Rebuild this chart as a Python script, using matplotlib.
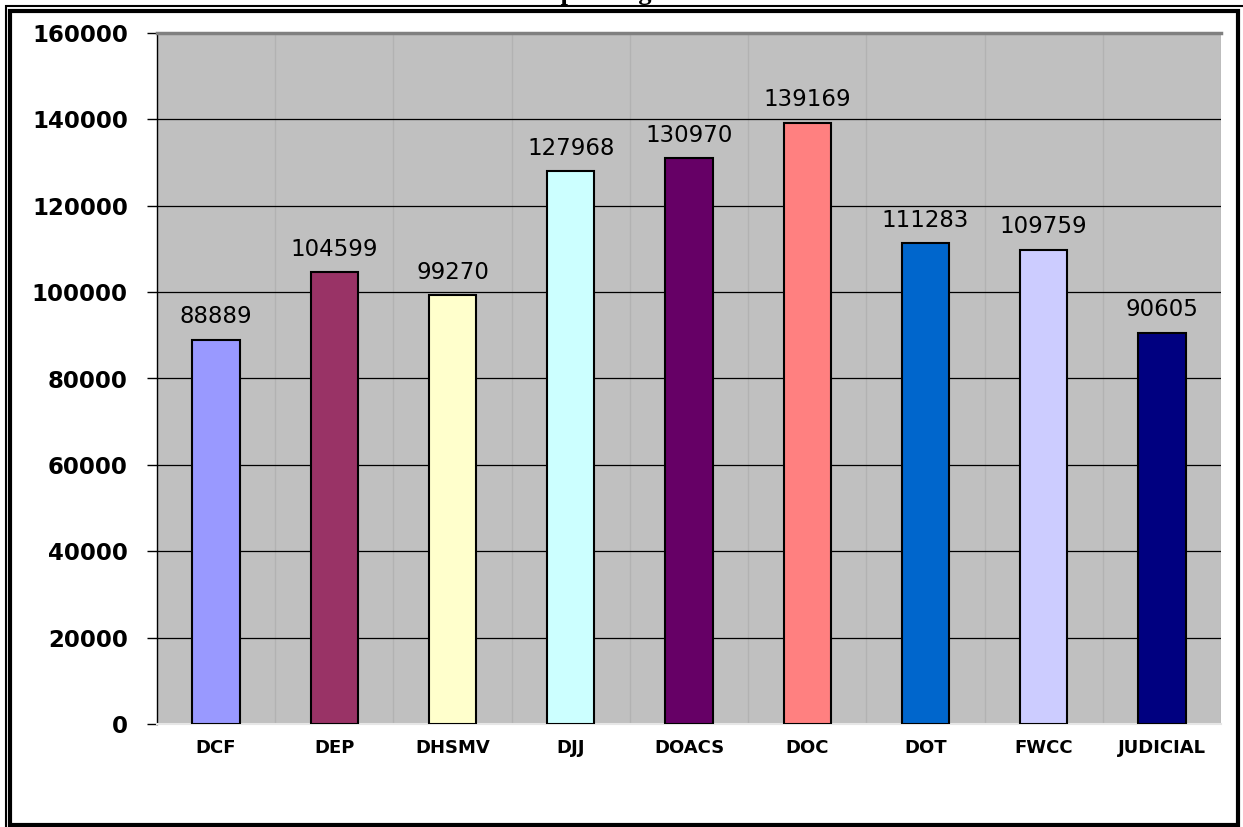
import matplotlib.pyplot as plt
import numpy as np
from matplotlib.patches import Rectangle

# data
agencies = ['DCF', 'DEP', 'DHSMV', 'DJJ', 'DOACS', 'DOC', 'DOT', 'FWCC', 'JUDICIAL']
values = [88889, 104599, 99270, 127968, 130970, 139169, 111283, 109759, 90605]
bar_colors = ['#9999FF', '#993366', '#FFFFCC', '#CCFFFF', '#660066',
              '#FF8080', '#0066CC', '#CCCCFF', '#000080']
y_ticks = [0, 20000, 40000, 60000, 80000, 100000, 120000, 140000, 160000]

W, H = 1243, 827
fig = plt.figure(figsize=(W / 100, H / 100), dpi=100)

# plot area in pixels: left 157, right 1221, top 33, bottom 724
ax = fig.add_axes([157 / W, 1 - 724 / H, (1221 - 157) / W, (724 - 33) / H])
ax.set_facecolor('#C0C0C0')

x = np.arange(len(agencies))
ax.bar(x, values, width=0.4, color=bar_colors, edgecolor='black', linewidth=1.5, zorder=3)

for xi, v in zip(x, values):
    ax.annotate(str(v), (xi, v), xytext=(0, 12), textcoords='offset points',
                ha='center', va='baseline', fontsize=16.5, family='DejaVu Sans', zorder=4)

ax.set_xlim(-0.5, len(agencies) - 0.5)
ax.set_ylim(0, 160000)
ax.set_yticks(y_ticks)
ax.set_yticklabels([str(t) for t in y_ticks], fontsize=16.5, fontweight='bold', family='DejaVu Sans')
ax.set_xticks(x)
ax.set_xticklabels(agencies, fontsize=13, fontweight='bold', family='DejaVu Sans')
ax.tick_params(axis='y', length=7, width=1, pad=14, color='black')
ax.tick_params(axis='x', length=0, pad=11)

# light vertical lines at category centres and edges, black horizontal grid
ax.set_xticks(np.arange(-0.5, len(agencies), 0.5), minor=True)
ax.tick_params(axis='x', which='minor', length=0)
ax.grid(True, which='minor', axis='x', color='#B2B2B2', linewidth=1, zorder=1)
ax.grid(True, which='major', axis='y', color='black', linewidth=0.9, zorder=2)

ax.spines['left'].set_color('black')
ax.spines['left'].set_linewidth(1)
ax.spines['top'].set_color('#808080')
ax.spines['top'].set_linewidth(2.5)
ax.spines['bottom'].set_color('#E6E6E6')
ax.spines['bottom'].set_linewidth(1.5)
ax.spines['right'].set_visible(False)

# double frame round the figure
fig.patches.append(Rectangle((6 / W, -10 / H), (W + 10) / W, (H + 4) / H,
                             transform=fig.transFigure, fill=False,
                             edgecolor='black', linewidth=1.5))
fig.patches.append(Rectangle((10.5 / W, (H - 825) / H), (1237.5 - 10.5) / W, (825 - 10.5) / H,
                             transform=fig.transFigure, fill=False,
                             edgecolor='black', linewidth=3))

# title sits above the page, only the descenders show
fig.text(547 / W, 1.0, 'Spending', ha='left', va='baseline',
         fontsize=19, fontweight='bold', family='Liberation Serif')

fig.savefig('out.png', dpi=100)
